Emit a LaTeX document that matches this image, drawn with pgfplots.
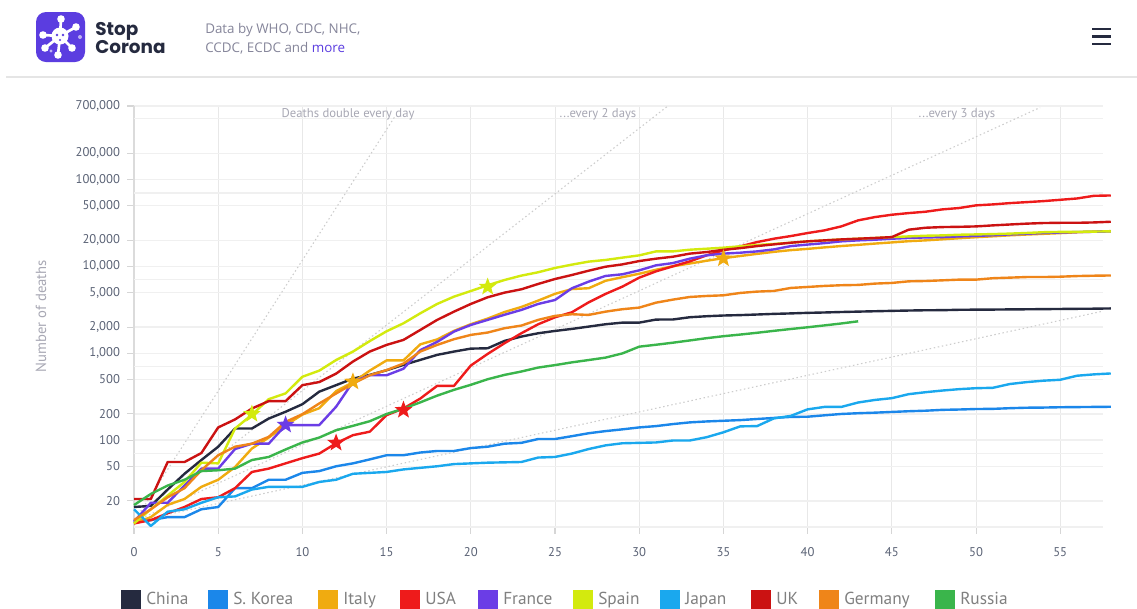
\documentclass[border=0pt]{standalone}
\usepackage{fontspec}
\usepackage{pgfplots}
\usepackage{pgfplotstable}
\pgfplotsset{compat=1.18}
\setmainfont{PT Sans}
\newfontfamily\logofont{Poppins}
\newfontfamily\headfont{Open Sans}
\definecolor{cChina}{HTML}{252A3F}
\definecolor{cKorea}{HTML}{1B87EA}
\definecolor{cItaly}{HTML}{F0AB10}
\definecolor{cUSA}{HTML}{EE1B1B}
\definecolor{cFrance}{HTML}{6B3DE6}
\definecolor{cSpain}{HTML}{D3EA0E}
\definecolor{cJapan}{HTML}{1AA8EE}
\definecolor{cUK}{HTML}{CB1212}
\definecolor{cGermany}{HTML}{EF8519}
\definecolor{cRussia}{HTML}{3AB54B}
\definecolor{logoP}{HTML}{5B3DE0}
\definecolor{headG}{HTML}{85859A}
\definecolor{tickG}{HTML}{5A6275}
\definecolor{noteG}{HTML}{A8A8B4}
\pgfdeclareplotmark{fstar}{%
  \pgfpathmoveto{\pgfpointpolar{90}{\pgfplotmarksize}}%
  \pgfpathlineto{\pgfpointpolar{126}{0.42\pgfplotmarksize}}%
  \pgfpathlineto{\pgfpointpolar{162}{\pgfplotmarksize}}%
  \pgfpathlineto{\pgfpointpolar{198}{0.42\pgfplotmarksize}}%
  \pgfpathlineto{\pgfpointpolar{234}{\pgfplotmarksize}}%
  \pgfpathlineto{\pgfpointpolar{270}{0.42\pgfplotmarksize}}%
  \pgfpathlineto{\pgfpointpolar{306}{\pgfplotmarksize}}%
  \pgfpathlineto{\pgfpointpolar{342}{0.42\pgfplotmarksize}}%
  \pgfpathlineto{\pgfpointpolar{18}{\pgfplotmarksize}}%
  \pgfpathlineto{\pgfpointpolar{54}{0.42\pgfplotmarksize}}%
  \pgfpathclose\pgfusepathqfill}
\pgfplotstableread{
d china korea italy usa france spain japan uk germany
0 17 12 11 11 11.5 11 16 21 12
1 17.5 12 13 12 19 16 10.3 21 16
2 27 13 18 14.4 19 23 15 56 22
3 41 13 21 17 30 33 16 56 28
4 59 16 29 21 47 55 19 71 45
5 84 17 35 22 47 54 22 140 67
6 136 28 49 28 79 136 22.5 173 84
7 136 28 80 43 91 196 27 231 91
8 177 35 107 47 91 296 29 281 109
9 212 35 148 54 149 345 29 281 162
10 259 42 197 62 149 536 29 429 199
11 361 44 233 70 149 630 33 466 264
12 429 50 366 92 242 835 35 582 344
13 510 54 463 114 468 1044 41 802 446
14 563 60 631 125 558 1380 42 1045 558
15 637 67 827 194 558 1790 43 1247 640
16 734 67 827 231 663 2210 46 1423 760
17 838 72 1266 301 1085 2880 48 1854 1045
18 957 75 1441 421 1350 3690 50 2417 1247
19 1045 75 1809 421 1775 4480 53 3010 1450
20 1130 81 2158 722 2115 5200 54 3690 1625
21 1140 84 2503 982 2420 6050 55 4405 1730
22 1386 91 2978 1303 2770 6960 55.5 4980 1940
23 1555 93 3405 1698 3150 7820 56 5440 2080
24 1698 103 4032 2155 3690 8550 63 6270 2420
25 1805 103 4825 2592 4100 9580 64 7150 2690
26 1905 111 5476 2960 5590 10460 70 7950 2810
27 2025 120 5600 3855 6670 11330 79 8910 2760
28 2155 127 6820 4814 7750 11840 87 9900 3010
29 2250 133 7503 5840 8100 12590 92 10530 3210
30 2250 140 8215 7410 8990 13370 93 11500 3350
31 2440 145 9134 8760 10270 14860 94 12250 3820
32 2445 153 10023 10000 10900 14860 99 12900 4140
33 2595 160 10779 11400 12250 15530 99 14000 4440
34 2665 164 11591 13380 13380 15950 108 14600 4560
35 2717 167 12428 15270 14000 16400 123 15500 4640
36 2746 170 13155 16970 14350 17000 144 16200 4940
37 2790 175 13915 19030 14860 17600 145 17100 5120
38 2837 180 14681 20800 15670 18100 178 17900 5210
39 2872 185 15362 22300 17100 18700 190 18700 5640
40 2915 186 15887 24160 17800 19400 226 19400 5790
41 2944 193 16523 25930 18500 19900 241 19900 5950
42 2981 200 17127 28820 19400 20400 241 20400 6060
43 3012 204 17669 33800 19900 20800 271 20800 6110
44 3042 207 18279 36900 20250 21200 290 21200 6330
45 3073 211 18849 39250 20800 21700 304 21700 6440
46 3100 215 19468 41000 21200 22100 338 26400 6720
47 3123 218 19899 42500 21500 22500 356 27800 6780
48 3130 223 20465 45200 21700 22700 372 28300 6900
49 3162 225 21067 46900 22100 23100 386 28500 7030
50 3173 228 21645 50300 22400 23300 396 28800 7030
51 3180 229 22170 51600 22800 23500 400 29600 7300
52 3194 233 22745 53400 23300 23800 442 30300 7410
53 3204 236 23227 54800 23700 24200 465 31000 7530
54 3218 237 23660 56300 24200 24700 483 31500 7530
55 3231 239 24114 58300 24500 24900 495 31700 7600
56 3245 240 24648 60400 24800 25000 551 31700 7730
57 3255 241 25085 64800 25000 25100 571 32000 7800
58 3277 242 25400 65400 25200 25300 585 32600 7850
}\deaths
\pgfplotstableread{
d russia
0 17.9
1 24
2 30
3 35
4 44
5 45
6 47
7 59
8 64
9 78
10 94
11 107
12 130
13 146
14 165
15 200
16 230
17 272
18 325
19 379
20 433
21 502
22 563
23 616
24 684
25 730
26 785
27 835
28 890
29 995
30 1190
31 1252
32 1322
33 1403
34 1490
35 1570
36 1640
37 1720
38 1810
39 1900
40 1990
41 2090
42 2200
43 2330
}\russia
\begin{document}
\begin{tikzpicture}
\path[use as bounding box,fill=white] (0pt,0pt) rectangle (852.75pt,-456pt);
\begin{axis}[
  scale only axis, at={(100.5pt,-395.25pt)}, anchor=south west,
  width=726.75pt, height=315.75pt,
  xmin=0, xmax=57.54, ymode=log, ymin=10, ymax=700000,
  clip=false, axis x line=bottom, axis y line=left,
  axis line style={draw=black!14,line width=1.3pt,-},
  xtick={0,5,...,55},
  xticklabels={0,5,10,15,20,25,30,35,40,45,50,55},
  ytick={20,50,100,200,500,1000,2000,5000,10000,20000,50000,100000,200000,700000},
  yticklabels={20,50,100,200,500,{1,000},{2,000},{5,000},{10,000},{20,000},{50,000},{100,000},{200,000},{700,000}},
  extra y ticks={10,70,700,7000,70000,500000},
  extra y tick labels={},
  extra y tick style={major tick length=0pt,grid=major},
  grid=major,
  x grid style={draw=black!9,line width=0.7pt},
  y grid style={draw=black!6,line width=1pt},
  tick style={draw=black!16,line width=0.8pt},
  major tick length=5pt,
  tick align=outside,
  minor tick num=0, log ticks with fixed point,
  ticklabel style={font=\fontsize{9.5pt}{10pt}\selectfont,text=tickG},
  xticklabel style={yshift=-7pt},
  yticklabel style={xshift=-2pt},
  ylabel={Number of deaths},
  ylabel style={at={(axis description cs:-0.096,0.501)},anchor=center,font=\fontsize{11pt}{12pt}\selectfont,text=noteG},
  every axis plot/.append style={line width=1.8pt,line join=round},
]
\addplot[draw=black!20,dash pattern=on 1.1pt off 2pt,line width=0.8pt,mark=none] coordinates {(0,11.5) (15.5,533000)};
\addplot[draw=black!20,dash pattern=on 1.1pt off 2pt,line width=0.8pt,mark=none] coordinates {(0,11.5) (31.7,700000)};
\addplot[draw=black!20,dash pattern=on 1.1pt off 2pt,line width=0.8pt,mark=none] coordinates {(0,11.5) (53.8,672000)};
\addplot[draw=black!20,dash pattern=on 1.1pt off 2pt,line width=0.8pt,mark=none] coordinates {(0,11.5) (57.5,3040)};
\addplot[draw=cChina,mark=none] table[x=d,y=china] {\deaths};
\addplot[draw=cKorea,mark=none] table[x=d,y=korea] {\deaths};
\addplot[draw=cItaly,mark=none] table[x=d,y=italy] {\deaths};
\addplot[draw=cUSA,mark=none] table[x=d,y=usa] {\deaths};
\addplot[draw=cFrance,mark=none] table[x=d,y=france] {\deaths};
\addplot[draw=cSpain,mark=none] table[x=d,y=spain] {\deaths};
\addplot[draw=cJapan,mark=none] table[x=d,y=japan] {\deaths};
\addplot[draw=cUK,mark=none] table[x=d,y=uk] {\deaths};
\addplot[draw=cGermany,mark=none] table[x=d,y=germany] {\deaths};
\addplot[draw=cRussia,mark=none] table[x=d,y=russia] {\russia};
\addplot[only marks,mark=fstar,mark size=7pt,color=cSpain,fill=cSpain] coordinates {(7,200) (21,5800)};
\addplot[only marks,mark=fstar,mark size=7pt,color=cFrance,fill=cFrance] coordinates {(9,150)};
\addplot[only marks,mark=fstar,mark size=7pt,color=cUSA,fill=cUSA] coordinates {(12,93) (16,222)};
\addplot[only marks,mark=fstar,mark size=7pt,color=cItaly,fill=cItaly] coordinates {(13,470) (35,12300)};
\end{axis}
\begin{scope}[x=0.75pt,y=-0.75pt]
% header
\draw[draw=black!10,line width=0.8pt] (6,77) -- (1137,77);
\fill[logoP,rounded corners=7.5pt] (36,12) rectangle (85,62);
\begin{scope}[white]
\fill (60,36) circle (8.5);
\foreach \a/\b in {61/19,76/27,72/48,58/55,45/48,43/35}{\draw[white,line width=2pt] (60,36) -- (\a,\b);}
\foreach \a/\b in {61/19,76/27,72/48,58/55,45/48,43/35}{\fill (\a,\b) circle (3.8);}
\end{scope}
\fill[logoP] (57,35) circle (1.3); \fill[logoP] (63,35) circle (1.3); \fill[logoP] (60,40) circle (1.2);
\fill[white,opacity=.6] (80,37) circle (2);
\fill[white,opacity=.6] (51,51) circle (1.6);
\node[anchor=base west,inner sep=0pt,text=cChina] at (95,35.5) {\logofont\bfseries\fontsize{13.8pt}{15pt}\selectfont Stop};
\node[anchor=base west,inner sep=0pt,text=cChina] at (95,53) {\logofont\bfseries\fontsize{13.8pt}{15pt}\selectfont Corona};
\node[anchor=base west,inner sep=0pt,text=headG] at (205,33) {\headfont\fontsize{10.05pt}{12pt}\selectfont Data by WHO, CDC, NHC,};
\node[anchor=base west,inner sep=0pt,text=headG] at (205,52) {\headfont\fontsize{10.05pt}{12pt}\selectfont CCDC, ECDC and \textcolor{logoP}{more}};
\draw[cChina,line width=1.9pt] (1092,29) -- (1111,29) (1092,36.5) -- (1111,36.5) (1092,44) -- (1111,44);
% notes
\node[text=noteG,inner sep=0pt] at (348,114) {\fontsize{9.5pt}{11pt}\selectfont Deaths double every day};
\node[text=noteG,inner sep=0pt] at (598,114) {\fontsize{9.5pt}{11pt}\selectfont ...every 2 days};
\node[text=noteG,inner sep=0pt] at (957,114) {\fontsize{9.5pt}{11pt}\selectfont ...every 3 days};
% legend
\foreach \x/\c/\t in {121/cChina/China,208/cKorea/S. Korea,318/cItaly/Italy,400/cUSA/USA,478/cFrance/France,573/cSpain/Spain,660/cJapan/Japan,751/cUK/UK,819/cGermany/Germany,935/cRussia/Russia}{
  \fill[\c] (\x,590) rectangle ++(20,20);
  \node[anchor=base west,inner sep=0pt,text=black!50] at (\x+25,604) {\fontsize{13pt}{14pt}\selectfont \t};
}
\end{scope}
\end{tikzpicture}
\end{document}
